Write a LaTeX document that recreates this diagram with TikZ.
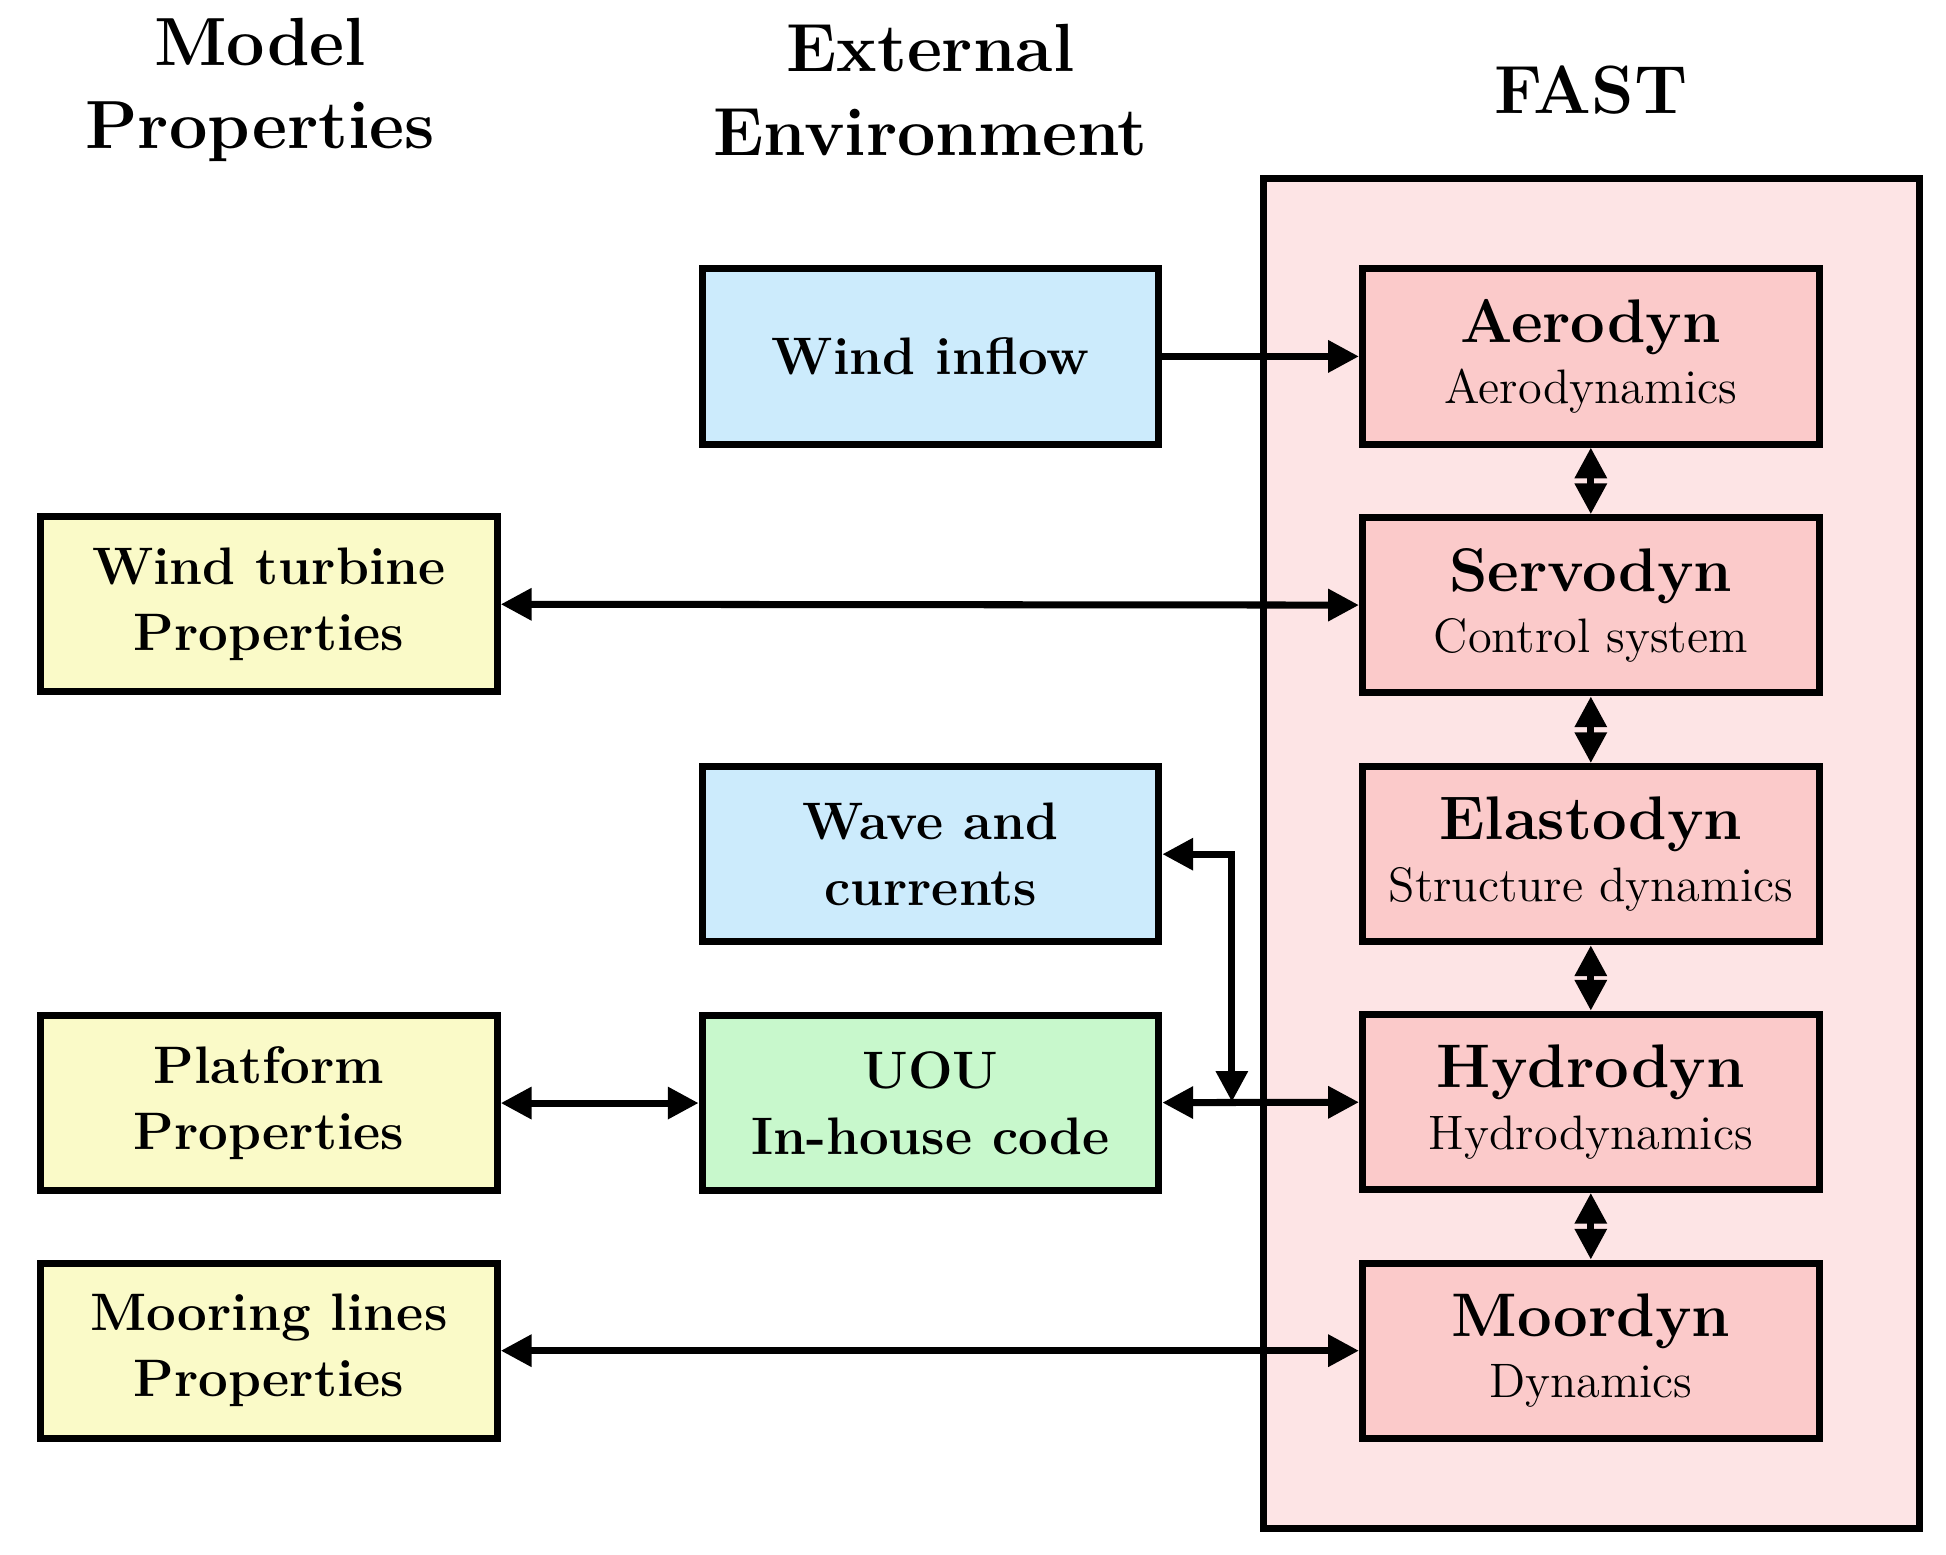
\documentclass[tikz,border=0pt]{standalone}
\usetikzlibrary{positioning,arrows.meta}
\definecolor{envblue}{HTML}{CCEBFC}
\definecolor{propyellow}{HTML}{FAFAC8}
\definecolor{codegreen}{HTML}{C8F8CC}
\definecolor{modpink}{HTML}{FBCACA}
\definecolor{fastpink}{HTML}{FDE4E5}
\tikzstyle{box} = [draw=black, line width=1.6pt, minimum width=3.65cm, minimum height=1.4cm, inner sep=1pt, align=center, font=\fontsize{12}{15}\selectfont\bfseries]
\tikzstyle{line} = [draw, line width=1.6pt, -{Triangle[length=7pt,width=7pt]}]
\tikzstyle{both} = [draw, line width=1.6pt, {Triangle[length=7pt,width=7pt]}-{Triangle[length=7pt,width=7pt]}]
\tikzstyle{head} = [align=center, font=\fontsize{15.5}{19}\selectfont\bfseries]
\newcommand{\modname}[2]{{\fontsize{14}{17}\selectfont #1}\\[-1pt]\normalfont\fontsize{11}{14}\selectfont #2}

\begin{document}
\begin{tikzpicture}[x=0.01cm,y=-0.01cm]
    \useasboundingbox (0,0) rectangle (1556,1243);
    \node[head] (hmodel) at (208,72) {Model\\Properties};
    \node[head] (henv) at (744,72) {External\\Environment};
    \node[head] (hfast) at (1272,72) {FAST};

    \path[draw=black,line width=1.6pt,fill=fastpink] (1010,143) rectangle (1535,1222);

    % environment and properties
    \node[box,fill=envblue] (wind) at (744,285) {Wind inflow};
    \node[box,fill=propyellow] (turbine) at (215,483) {Wind turbine\\Properties};
    \node[box,fill=envblue] (wave) at (744,683) {Wave and\\currents};
    \node[box,fill=propyellow] (platform) at (215,882) {Platform\\Properties};
    \node[box,fill=codegreen] (uou) at (744,882) {UOU\\In-house code};
    \node[box,fill=propyellow] (mooring) at (215,1080) {Mooring lines\\Properties};

    % FAST modules
    \node[box,fill=modpink] (aero) at (1272,285) {\modname{Aerodyn}{Aerodynamics}};
    \node[box,fill=modpink] (servo) at (1272,484) {\modname{Servodyn}{Control system}};
    \node[box,fill=modpink] (elasto) at (1272,683) {\modname{Elastodyn}{Structure dynamics}};
    \node[box,fill=modpink] (hydro) at (1272,881) {\modname{Hydrodyn}{Hydrodynamics}};
    \node[box,fill=modpink] (moor) at (1272,1080) {\modname{Moordyn}{Dynamics}};

    \path[line] (wind) -- (aero);
    \path[both] (turbine) -- (servo);
    \path[both] (platform) -- (uou);
    \path[both] (uou) -- (hydro);
    \path[both] (mooring) -- (moor);
    \coordinate (jn) at (985,881);
    \path[both] (wave.east) -| (jn);

    \path[both] (aero) -- (servo);
    \path[both] (servo) -- (elasto);
    \path[both] (elasto) -- (hydro);
    \path[both] (hydro) -- (moor);
\end{tikzpicture}
\end{document}
